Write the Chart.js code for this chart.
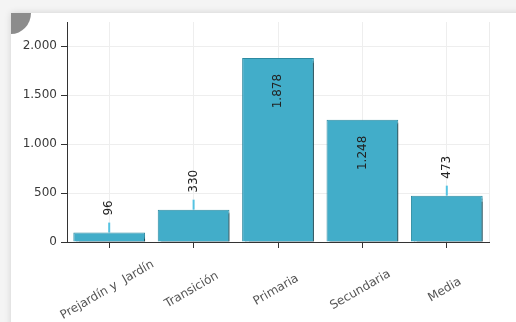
<!DOCTYPE html>
<html>
<head>
<meta charset="utf-8">
<script src="https://cdn.jsdelivr.net/npm/chart.js@4.4.0/dist/chart.umd.min.js"></script>
<style>
  html, body { margin: 0; padding: 0; }
  body { width: 516px; height: 322px; overflow: hidden; background: #f4f4f4; position: relative; }
  .card { position: absolute; left: 11px; top: 13px; width: 530px; height: 330px; background: #fff; box-shadow: 0 0 7px rgba(0,0,0,0.14); overflow: hidden; }
  .corner { position: absolute; left: 0; top: 0; width: 20px; height: 21px; background: #8c8c8c; border-bottom-right-radius: 20px 21px; }
  #wrap { position: absolute; left: 0; top: 0; width: 516px; height: 322px; }
</style>
</head>
<body>
<div class="card"><div class="corner"></div></div>
<div id="wrap"><canvas id="barChart"></canvas></div>
<script>
const categorias = ["Prejardín y  Jardín", "Transición", "Primaria", "Secundaria", "Media"];
const matriculados = [96, 330, 1878, 1248, 473];
const ticksY = [0, 500, 1000, 1500, 2000];
const maxY = 2245;

// separador de miles con punto
function fmt(n) {
  return String(n).replace(/\B(?=(\d{3})+(?!\d))/g, ".");
}

// sombra gris a la derecha de cada barra
const sombraBarras = {
  id: "sombraBarras",
  beforeDatasetsDraw(chart) {
    const { ctx, chartArea } = chart;
    // linea de rejilla del borde derecho
    ctx.save();
    ctx.strokeStyle = "#ececec";
    ctx.lineWidth = 1;
    ctx.beginPath();
    ctx.moveTo(chartArea.right + 0.5, chartArea.top);
    ctx.lineTo(chartArea.right + 0.5, chartArea.bottom);
    ctx.stroke();
    ctx.restore();

    ctx.save();
    ctx.shadowColor = "rgba(0,0,0,0.5)";
    ctx.shadowOffsetX = 3;
    ctx.shadowOffsetY = 3;
    ctx.shadowBlur = 1;
  },
  afterDatasetsDraw(chart) {
    chart.ctx.restore();
  },
};

// valores girados sobre/dentro de las barras
const etiquetas = {
  id: "etiquetas",
  afterDatasetsDraw(chart) {
    const { ctx } = chart;
    const meta = chart.getDatasetMeta(0);
    meta.data.forEach((bar, i) => {
      const v = matriculados[i];
      ctx.save();
      ctx.font = "12px 'DejaVu Sans'";
      ctx.fillStyle = "#222";
      ctx.textBaseline = "middle";
      if (v >= 1000) {
        ctx.translate(bar.x, bar.y + 16);
        ctx.rotate(-Math.PI / 2);
        ctx.textAlign = "right";
        ctx.fillText(fmt(v), 0, 0);
      } else {
        ctx.strokeStyle = "#55c3e2";
        ctx.lineWidth = 2;
        ctx.beginPath();
        ctx.moveTo(bar.x, bar.y);
        ctx.lineTo(bar.x, bar.y - 10);
        ctx.stroke();
        ctx.translate(bar.x, bar.y - 17);
        ctx.rotate(-Math.PI / 2);
        ctx.textAlign = "left";
        ctx.fillText(fmt(v), 0, 0);
      }
      ctx.restore();
    });
  },
};

// nombres de las categorias inclinados y centrados en la marca
const etiquetasX = {
  id: "etiquetasX",
  afterDraw(chart) {
    const { ctx } = chart;
    const xs = chart.scales.x;
    categorias.forEach((c, i) => {
      const px = xs.getPixelForTick(i);
      ctx.save();
      ctx.translate(px - 2, 290);
      ctx.rotate(-30 * Math.PI / 180);
      ctx.font = "12px 'DejaVu Sans'";
      ctx.fillStyle = "#555";
      ctx.textAlign = "center";
      ctx.textBaseline = "middle";
      ctx.fillText(c, 0, 0);
      ctx.restore();
    });
  },
};

const ctx = document.getElementById("barChart").getContext("2d");
new Chart(ctx, {
  type: "bar",
  data: {
    labels: categorias,
    datasets: [
      {
        data: matriculados,
        backgroundColor: "#42adc9",
        borderColor: "#2c8aa1",
        borderWidth: 1,
        barPercentage: 0.85,
        categoryPercentage: 1,
      },
    ],
  },
  options: {
    responsive: true,
    maintainAspectRatio: false,
    animation: false,
    layout: { padding: { top: 22, right: 27, left: 0, bottom: 0 } },
    plugins: {
      legend: { display: false },
      tooltip: { enabled: false },
    },
    scales: {
      x: {
        grid: { offset: false, color: "#eeeeee", tickColor: "#333", tickLength: 6 },
        border: { color: "#333", width: 1 },
        ticks: { display: false },
        afterFit(scale) { scale.height = 80; },
      },
      y: {
        min: 0,
        max: maxY,
        afterBuildTicks(scale) {
          scale.ticks = ticksY.map((v) => ({ value: v }));
        },
        grid: { color: "#eeeeee", tickColor: "#333", tickLength: 6 },
        border: { color: "#333", width: 1 },
        ticks: {
          padding: 4,
          color: "#3a3a3a",
          font: { family: "DejaVu Sans", size: 12 },
          callback: (v) => fmt(v),
        },
        afterFit(scale) { scale.width = 67; },
      },
    },
  },
  plugins: [sombraBarras, etiquetas, etiquetasX],
});
</script>
</body>
</html>
